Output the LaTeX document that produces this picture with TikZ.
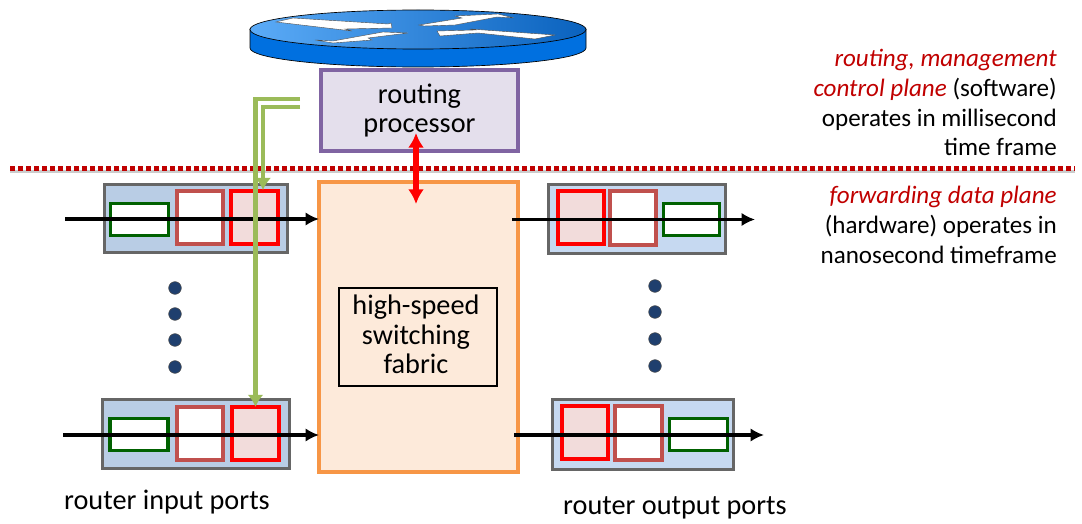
\documentclass[tikz,border=0pt]{standalone}
\usepackage{fontspec}
\setmainfont{Carlito}
\usepackage{tikz}
\usetikzlibrary{shapes, arrows.meta}
\definecolor{routerlite}{HTML}{5BABF7}
\definecolor{routerdark}{HTML}{0A62BE}
\definecolor{routerside}{HTML}{0070E0}
\definecolor{procdraw}{HTML}{8064A2}
\definecolor{procfill}{HTML}{E4DFEC}
\definecolor{fabdraw}{HTML}{F79646}
\definecolor{fabfill}{HTML}{FDEADA}
\definecolor{inportfill}{HTML}{B9CDE5}
\definecolor{outportfill}{HTML}{C6D9F1}
\definecolor{qgreendraw}{HTML}{006100}
\definecolor{qpinkdraw}{HTML}{C0504D}
\definecolor{qredfill}{HTML}{F2DCDB}
\definecolor{ctlgreen}{HTML}{9BBB59}
\definecolor{planered}{HTML}{C00000}
\definecolor{dotblue}{HTML}{1F3F6E}
\tikzstyle{txt} = [font=\fontsize{21.2}{22}\selectfont, align=center, inner sep=0pt]
\tikzstyle{sidetxt} = [font=\fontsize{18.8}{22.3}\selectfont, align=right, anchor=north east, inner sep=0pt]
\tikzstyle{proc} = [rectangle, draw=procdraw, fill=procfill, line width=3pt, inner sep=0pt, outer sep=0pt]
\tikzstyle{fab} = [rectangle, draw=fabdraw, fill=fabfill, line width=3pt, inner sep=0pt, outer sep=0pt]
\tikzstyle{fabtxt} = [rectangle, draw, fill=fabfill, line width=1pt, inner sep=0pt, outer sep=0pt]
\tikzstyle{inport} = [rectangle, draw=black!60, fill=inportfill, line width=2.4pt, inner sep=0pt, outer sep=0pt]
\tikzstyle{outport} = [rectangle, draw=black!60, fill=outportfill, line width=2.4pt, inner sep=0pt, outer sep=0pt]
\tikzstyle{qgreen} = [rectangle, draw=qgreendraw, fill=white, line width=2.8pt, minimum width=43.5pt, minimum height=24pt, inner sep=0pt, outer sep=0pt]
\tikzstyle{qpink} = [rectangle, draw=qpinkdraw, fill=white, line width=2.8pt, minimum width=35pt, minimum height=40pt, inner sep=0pt, outer sep=0pt]
\tikzstyle{qred} = [rectangle, draw=red, fill=qredfill, line width=3pt, minimum width=35pt, minimum height=40pt, inner sep=0pt, outer sep=0pt]
\tikzstyle{qdot} = [circle, fill=dotblue, draw=black!70, minimum size=9.5pt, inner sep=0pt]
\tikzstyle{line} = [draw, line width=2.7pt, -{Latex[length=10pt, width=10pt]}]
\tikzstyle{ctl} = [draw=ctlgreen, line width=3.2pt, -{Latex[length=9pt, width=12pt]}]
\tikzstyle{updown} = [draw=red, line width=3.8pt, {Latex[length=11pt, width=12pt]}-{Latex[length=11pt, width=12pt]}]
\begin{document}
\begin{tikzpicture}[x=0.75pt, y=-0.75pt]
    \useasboundingbox (0,0) rectangle (1082,524);

    % router
    \draw[fill=routerside, line width=0.5pt] (250,29) -- (250,48) arc[start angle=180, end angle=0, x radius=168, y radius=19] -- (586,29) -- cycle;
    \draw[left color=routerlite, right color=routerdark, line width=0.5pt] (418,29.5) ellipse [x radius=168, y radius=19.5];
    \draw[fill=white, draw=black!70, line width=0.3pt] (276,22) -- (293,18) -- (388,24) -- (391,23) -- (392,28) -- (345,29) -- (352,31) -- cycle;
    \draw[fill=white, draw=black!70, line width=0.3pt] (315,40) -- (333,41) -- (383,32) -- (408,33) -- (368,38) -- (372,40) -- (333,43) -- cycle;
    \draw[fill=white, draw=black!70, line width=0.3pt] (419,25) -- (462,18) -- (455,16) -- (498,14) -- (514,18) -- (497,17) -- (455,25) -- (424,26) -- cycle;
    \draw[fill=white, draw=black!70, line width=0.3pt] (437,31) -- (475,30) -- (470,29) -- (555,35) -- (535,39) -- (478,33) -- (440,36) -- cycle;

    \node[proc, minimum width=147.75pt, minimum height=60.75pt, txt](proc) at (419.5,110.5){routing\\processor};
    \node[fab, minimum width=149.25pt, minimum height=217.5pt](fabric) at (418.5,327){};
    \node[fabtxt, minimum width=118.5pt, minimum height=73.5pt, txt](fabtxt) at (418,337){};
    \node[txt](fabname) at (416,334.5){high-speed\\switching\\fabric};

    % ports
    \node[inport, minimum width=137pt, minimum height=51pt](portA) at (196,218.5){};
    \node[inport, minimum width=140pt, minimum height=52pt](portB) at (196,434){};
    \node[outport, minimum width=133pt, minimum height=52pt](portC) at (637,219){};
    \node[outport, minimum width=136pt, minimum height=53pt](portD) at (643,434.5){};

    \node[qgreen](greenA) at (139.5,219.5){};
    \node[qpink](pinkA) at (200,217.5){};
    \node[qred](redA) at (254.5,217.5){};
    \node[qgreen](greenB) at (139,434.5){};
    \node[qpink](pinkB) at (200,433.5){};
    \node[qred](redB) at (255.5,433.5){};
    \node[qred](redC) at (581,217.5){};
    \node[qpink](pinkC) at (633,218){};
    \node[qgreen, minimum width=42pt](greenC) at (691.5,219.5){};
    \node[qred](redD) at (585,432.5){};
    \node[qpink](pinkD) at (638.5,433){};
    \node[qgreen](greenD) at (698.5,434.5){};

    \foreach \y/\n in {288/1, 314/2, 340/3, 367/4} \node[qdot](dotL\n) at (175,\y){};
    \foreach \y/\n in {286/1, 312/2, 339/3, 366/4} \node[qdot](dotR\n) at (655,\y){};

    % free ends
    \coordinate (lineL) at (10,168.5);
    \coordinate (lineR) at (1075,168.5);
    \coordinate (shadL) at (10,171.5);
    \coordinate (shadR) at (1075,171.5);
    \coordinate (inAs) at (65,219);
    \coordinate (inBs) at (63,435);
    \coordinate (outAs) at (512,219.5);
    \coordinate (outAe) at (755,219.5);
    \coordinate (outBs) at (514,435);
    \coordinate (outBe) at (764,435);
    \coordinate (ctlA) at (300,107);
    \coordinate (ctlAe) at (263,190);
    \coordinate (ctlB) at (300,99);
    \coordinate (updownT) at (416,133);
    \coordinate (updownB) at (416,204);

    \draw[black!20, line width=2.4pt] (shadL) -- (shadR);
    \draw[planered, line width=3.6pt, dash pattern=on 3.6pt off 2.4pt] (lineL) -- (lineR);

    \path[line] (inAs) -- (inAs -| fabric.west);
    \path[line] (inBs) -- (inBs -| fabric.west);
    \path[line] (outAs) -- (outAe);
    \path[line] (outBs) -- (outBe);

    \path[ctl] (ctlA) -| (ctlAe);
    \path[ctl] (ctlB) -| (redB.north);
    \path[updown] (updownT) -- (updownB);

    % labels
    \node[sidetxt, text=planered](ctlname) at (1057,49){\textit{routing, management}\\\textit{control plane} \textcolor{black}{(software)}\\\textcolor{black}{operates in millisecond}\\\textcolor{black}{time frame}};
    \node[sidetxt, text=planered](fwdname) at (1057,186){\textit{forwarding data plane}\\\textcolor{black}{(hardware) operates in}\\\textcolor{black}{nanosecond timeframe}};
    \node[txt](inlabel) at (167,502){router input ports};
    \node[txt](outlabel) at (675,508){router output ports};
\end{tikzpicture}
\end{document}
